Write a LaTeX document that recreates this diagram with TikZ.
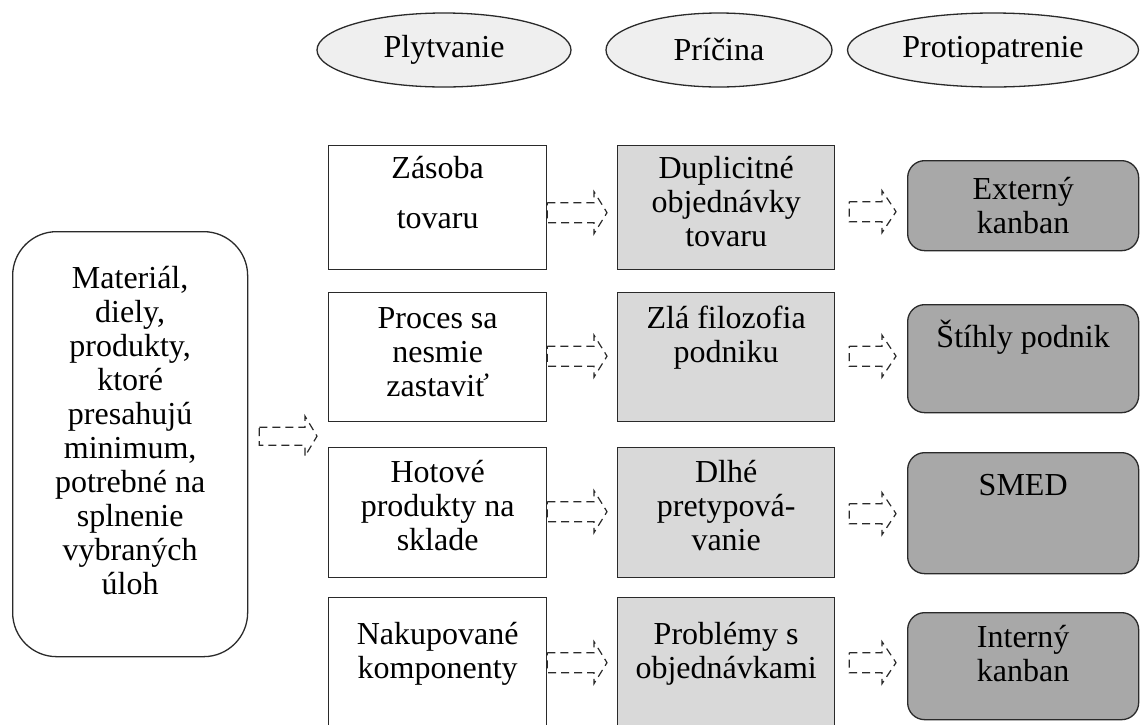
\documentclass[tikz,border=0pt]{standalone}
\usepackage{fontspec}
\setmainfont{Liberation Serif}
\usetikzlibrary{calc,shapes.geometric}

\definecolor{ovalfill}{HTML}{EFEFEF}
\definecolor{causefill}{HTML}{D9D9D9}
\definecolor{fixfill}{HTML}{A8A8A8}
\definecolor{edgecol}{HTML}{2A2A2A}

% strut fixing the height of a first text line
\newcommand{\Ltop}{\rule{0pt}{28pt}}

% dashed outline block arrow: start point, tip point, body half height, head half height, head length
\newcommand{\flowarrow}[5]{%
  \draw[arrowline] let \p1=#1, \p2=#2 in
    (\x1,\y1+#3) -- (\x2-#5,\y1+#3) -- (\x2-#5,\y1+#4) -- (\x2,\y1)
    -- (\x2-#5,\y1-#4) -- (\x2-#5,\y1-#3) -- (\x1,\y1-#3) -- cycle;}

\begin{document}
\begin{tikzpicture}[x=1pt,y=-1pt,
  every node/.style={text=black},
  txt/.style={font=\fontsize{32}{34}\selectfont, align=center, inner sep=0pt, anchor=north},
  header/.style={ellipse, draw=edgecol, line width=1.3pt, fill=ovalfill, inner sep=0pt,
    font=\fontsize{32}{34}\selectfont},
  wastebox/.style={draw=edgecol, line width=1.3pt, fill=white, inner sep=0pt, anchor=north west},
  causebox/.style={draw=edgecol, line width=1.3pt, fill=causefill, inner sep=0pt, anchor=north west},
  fixbox/.style={draw=edgecol, line width=1.3pt, fill=fixfill, rounded corners=17pt, inner sep=0pt, anchor=north west},
  mainbox/.style={draw=edgecol, line width=1.3pt, fill=white, rounded corners=44pt, inner sep=0pt, anchor=north west},
  arrowline/.style={draw=edgecol, line width=1.2pt, dash pattern=on 8pt off 5pt},
]
\clip (0,0) rectangle (1140,724);
\fill[white] (0,0) rectangle (1140,724);

% column headers
\node[header, minimum width=254, minimum height=74] (hw) at (444,50) {Plytvanie};
\node[header, minimum width=226, minimum height=74] (hc) at (719,50) {Príčina};
\node[header, minimum width=291, minimum height=74] (hf) at (993,50) {Protiopatrenie};

% main box on the left
\node[mainbox, minimum width=235, minimum height=425] (m) at (12,231) {};
\node[txt] (mt) at ($(m.north)+(0,29)$)
  {\Ltop Materiál,\\diely,\\produkty,\\ktoré\\presahujú\\minimum,\\potrebné na\\splnenie\\vybraných\\úloh};

% waste column
\node[wastebox, minimum width=218, minimum height=124] (w1) at (328,145) {};
\node[wastebox, minimum width=218, minimum height=129] (w2) at (328,292) {};
\node[wastebox, minimum width=218, minimum height=130] (w3) at (328,447) {};
\node[wastebox, minimum width=218, minimum height=140] (w4) at (328,597) {};
\node[txt] (w1t) at ($(w1.north)+(0,5)$) {\Ltop Zásoba\\[16pt]tovaru};
\node[txt] (w2t) at ($(w2.north)+(0,8)$) {\Ltop Proces sa\\nesmie\\zastaviť};
\node[txt] (w3t) at ($(w3.north)+(0,7)$) {\Ltop Hotové\\produkty na\\sklade};
\node[txt] (w4t) at ($(w4.north)+(0,19)$) {\Ltop Nakupované\\komponenty};

% cause column
\node[causebox, minimum width=217, minimum height=124] (c1) at (617,145) {};
\node[causebox, minimum width=217, minimum height=129] (c2) at (617,292) {};
\node[causebox, minimum width=217, minimum height=130] (c3) at (617,447) {};
\node[causebox, minimum width=217, minimum height=140] (c4) at (617,597) {};
\node[txt] (c1t) at ($(c1.north)+(0,5)$) {\Ltop Duplicitné\\objednávky\\tovaru};
\node[txt] (c2t) at ($(c2.north)+(0,8)$) {\Ltop Zlá filozofia\\podniku};
\node[txt] (c3t) at ($(c3.north)+(0,7)$) {\Ltop Dlhé\\pretypová-\\vanie};
\node[txt] (c4t) at ($(c4.north)+(0,19)$) {\Ltop Problémy s\\objednávkami};

% countermeasure column
\node[fixbox, minimum width=231, minimum height=90] (f1) at (907,160) {};
\node[fixbox, minimum width=231, minimum height=108] (f2) at (907,304) {};
\node[fixbox, minimum width=231, minimum height=121] (f3) at (907,452) {};
\node[fixbox, minimum width=231, minimum height=107] (f4) at (907,612) {};
\node[txt] (f1t) at ($(f1.north)+(0,11)$) {\Ltop Externý\\kanban};
\node[txt] (f2t) at ($(f2.north)+(0,15)$) {\Ltop Štíhly podnik};
\node[txt] (f3t) at ($(f3.north)+(0,15)$) {\Ltop SMED};
\node[txt] (f4t) at ($(f4.north)+(0,7)$) {\Ltop Interný\\kanban};

% arrows
\flowarrow{($(m.east)+(11,-8)$)}{($(w2.west)+(-11,0)$)}{9pt}{20pt}{12pt}

\flowarrow{($(w1.east)+(0,5)$)}{($(c1.west)+(-10,0)$)}{10pt}{21pt}{13pt}
\flowarrow{($(w2.east)+(0,-1)$)}{($(c2.west)+(-10,0)$)}{10pt}{21pt}{13pt}
\flowarrow{($(w3.east)+(0,-1)$)}{($(c3.west)+(-10,0)$)}{10pt}{21pt}{13pt}
\flowarrow{($(w4.east)+(0,-5)$)}{($(c4.west)+(-10,0)$)}{10pt}{21pt}{13pt}

\flowarrow{($(c1.east)+(14,4)$)}{($(f1.west)+(-11,0)$)}{10pt}{21pt}{14pt}
\flowarrow{($(c2.east)+(14,-1)$)}{($(f2.west)+(-11,0)$)}{10pt}{21pt}{14pt}
\flowarrow{($(c3.east)+(14,1)$)}{($(f3.west)+(-11,0)$)}{10pt}{21pt}{14pt}
\flowarrow{($(c4.east)+(14,-5)$)}{($(f4.west)+(-11,0)$)}{10pt}{21pt}{14pt}
\end{tikzpicture}
\end{document}
